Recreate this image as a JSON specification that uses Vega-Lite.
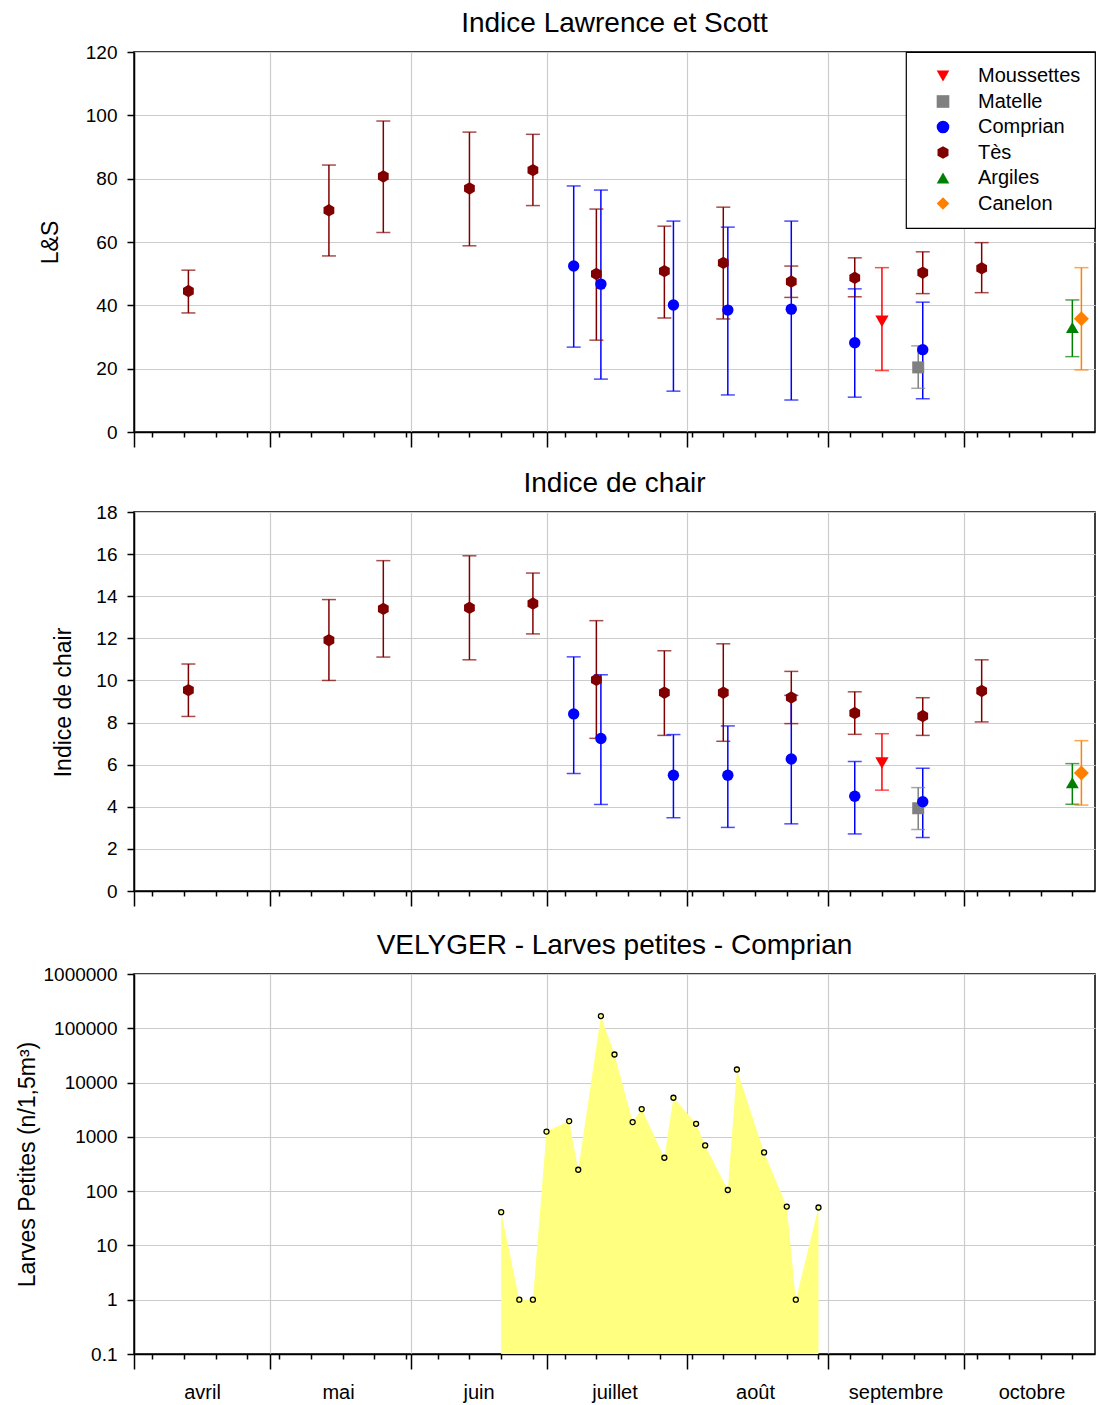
{
  "$schema": "https://vega.github.io/schema/vega-lite/v6.json",
  "background": "white",
  "padding": {"left": 15, "top": 9, "right": 3, "bottom": 0},
  "spacing": 20,
  "config": {
    "font": "Liberation Sans",
    "view": {"stroke": "black", "strokeWidth": 1.5},
    "axis": {
      "domainColor": "black", "domainWidth": 1.5,
      "tickColor": "black", "tickWidth": 1.5,
      "labelColor": "black", "titleColor": "black",
      "labelFontSize": 19, "titleFontSize": 23, "titleFontWeight": "normal",
      "gridColor": "#cccccc", "gridWidth": 1.2
    },
    "title": {"fontSize": 28, "fontWeight": "normal", "color": "black", "offset": 5, "baseline": "alphabetic", "anchor": "middle", "frame": "group"},
    "legend": {
      "orient": "top-right", "offset": 0, "padding": 14,
      "strokeColor": "black", "strokeWidth": 1.2, "fillColor": "white",
      "labelFontSize": 20, "labelColor": "black", "labelFont": "Liberation Sans",
      "symbolSize": 160, "symbolOffset": 13, "labelOffset": 25, "rowPadding": 5.5,
      "symbolStrokeWidth": 0, "symbolOpacity": 1, "cornerRadius": 0
    }
  },
  "resolve": {"legend": {"color": "independent", "shape": "independent"}},
  "datasets": {
    "indices": [
      {"date": "2009-04-13T00:00:00", "site": "Tès", "ls": 44.5, "ls_lo": 37.6, "ls_hi": 51.1, "ic": 9.54, "ic_lo": 8.29, "ic_hi": 10.78},
      {"date": "2009-05-14T00:00:00", "site": "Tès", "ls": 70.0, "ls_lo": 55.6, "ls_hi": 84.3, "ic": 11.91, "ic_lo": 10.0, "ic_hi": 13.84},
      {"date": "2009-05-26T00:00:00", "site": "Tès", "ls": 80.7, "ls_lo": 63.0, "ls_hi": 98.2, "ic": 13.4, "ic_lo": 11.11, "ic_hi": 15.69},
      {"date": "2009-06-14T00:00:00", "site": "Tès", "ls": 76.9, "ls_lo": 58.8, "ls_hi": 94.7, "ic": 13.45, "ic_lo": 10.98, "ic_hi": 15.92},
      {"date": "2009-06-28T00:00:00", "site": "Tès", "ls": 82.7, "ls_lo": 71.5, "ls_hi": 94.0, "ic": 13.65, "ic_lo": 12.21, "ic_hi": 15.1},
      {"date": "2009-07-12T00:00:00", "site": "Tès", "ls": 49.9, "ls_lo": 29.0, "ls_hi": 70.4, "ic": 10.03, "ic_lo": 7.25, "ic_hi": 12.84},
      {"date": "2009-07-27T00:00:00", "site": "Tès", "ls": 50.8, "ls_lo": 36.0, "ls_hi": 65.0, "ic": 9.42, "ic_lo": 7.39, "ic_hi": 11.41},
      {"date": "2009-08-09T00:00:00", "site": "Tès", "ls": 53.4, "ls_lo": 35.7, "ls_hi": 71.0, "ic": 9.42, "ic_lo": 7.11, "ic_hi": 11.74},
      {"date": "2009-08-24T00:00:00", "site": "Tès", "ls": 47.5, "ls_lo": 42.5, "ls_hi": 52.4, "ic": 9.19, "ic_lo": 7.95, "ic_hi": 10.43},
      {"date": "2009-09-07T00:00:00", "site": "Tès", "ls": 48.7, "ls_lo": 42.7, "ls_hi": 55.0, "ic": 8.45, "ic_lo": 7.44, "ic_hi": 9.46},
      {"date": "2009-09-22T00:00:00", "site": "Tès", "ls": 50.3, "ls_lo": 43.7, "ls_hi": 56.9, "ic": 8.31, "ic_lo": 7.39, "ic_hi": 9.18},
      {"date": "2009-10-05T00:00:00", "site": "Tès", "ls": 51.7, "ls_lo": 44.0, "ls_hi": 59.8, "ic": 9.5, "ic_lo": 8.03, "ic_hi": 10.98},
      {"date": "2009-09-21T00:00:00", "site": "Matelle", "ls": 20.4, "ls_lo": 13.8, "ls_hi": 27.2, "ic": 3.93, "ic_lo": 2.92, "ic_hi": 4.91},
      {"date": "2009-09-13T00:00:00", "site": "Moussettes", "ls": 35.0, "ls_lo": 19.4, "ls_hi": 51.9, "ic": 6.08, "ic_lo": 4.79, "ic_hi": 7.47},
      {"date": "2009-07-07T00:00:00", "site": "Comprian", "ls": 52.4, "ls_lo": 26.8, "ls_hi": 77.7, "ic": 8.41, "ic_lo": 5.58, "ic_hi": 11.12},
      {"date": "2009-07-13T00:00:00", "site": "Comprian", "ls": 46.7, "ls_lo": 16.7, "ls_hi": 76.4, "ic": 7.24, "ic_lo": 4.11, "ic_hi": 10.27},
      {"date": "2009-07-29T00:00:00", "site": "Comprian", "ls": 40.1, "ls_lo": 12.9, "ls_hi": 66.6, "ic": 5.5, "ic_lo": 3.48, "ic_hi": 7.43},
      {"date": "2009-08-10T00:00:00", "site": "Comprian", "ls": 38.5, "ls_lo": 11.7, "ls_hi": 64.7, "ic": 5.5, "ic_lo": 3.02, "ic_hi": 7.84},
      {"date": "2009-08-24T00:00:00", "site": "Comprian", "ls": 38.8, "ls_lo": 10.1, "ls_hi": 66.6, "ic": 6.27, "ic_lo": 3.19, "ic_hi": 9.29},
      {"date": "2009-09-07T00:00:00", "site": "Comprian", "ls": 28.2, "ls_lo": 11.0, "ls_hi": 45.2, "ic": 4.5, "ic_lo": 2.71, "ic_hi": 6.15},
      {"date": "2009-09-22T00:00:00", "site": "Comprian", "ls": 26.0, "ls_lo": 10.5, "ls_hi": 41.0, "ic": 4.24, "ic_lo": 2.54, "ic_hi": 5.83},
      {"date": "2009-10-25T00:00:00", "site": "Argiles", "ls": 33.0, "ls_lo": 23.8, "ls_hi": 41.7, "ic": 5.14, "ic_lo": 4.12, "ic_hi": 6.05},
      {"date": "2009-10-27T00:00:00", "site": "Canelon", "ls": 35.8, "ls_lo": 19.6, "ls_hi": 51.9, "ic": 5.61, "ic_lo": 4.08, "ic_hi": 7.14}
    ],
    "velyger": [
      {"date": "2009-06-21T00:00:00", "larves": 41},
      {"date": "2009-06-25T00:00:00", "larves": 1},
      {"date": "2009-06-28T00:00:00", "larves": 1},
      {"date": "2009-07-01T00:00:00", "larves": 1250},
      {"date": "2009-07-06T00:00:00", "larves": 1950},
      {"date": "2009-07-08T00:00:00", "larves": 248},
      {"date": "2009-07-13T00:00:00", "larves": 168000},
      {"date": "2009-07-16T00:00:00", "larves": 32900},
      {"date": "2009-07-20T00:00:00", "larves": 1870},
      {"date": "2009-07-22T00:00:00", "larves": 3250},
      {"date": "2009-07-27T00:00:00", "larves": 412},
      {"date": "2009-07-29T00:00:00", "larves": 5250},
      {"date": "2009-08-03T00:00:00", "larves": 1740},
      {"date": "2009-08-05T00:00:00", "larves": 695},
      {"date": "2009-08-10T00:00:00", "larves": 105},
      {"date": "2009-08-12T00:00:00", "larves": 17400},
      {"date": "2009-08-18T00:00:00", "larves": 516},
      {"date": "2009-08-23T00:00:00", "larves": 52},
      {"date": "2009-08-25T00:00:00", "larves": 1},
      {"date": "2009-08-30T00:00:00", "larves": 50}
    ]
  },
  "vconcat": [
    {
      "title": "Indice Lawrence et Scott",
      "width": 961, "height": 380,
      "data": {"name": "indices"},
      "encoding": {
        "x": {
          "field": "date", "type": "temporal",
          "scale": {"domain": [{"year": 2009, "month": 4, "date": 1}, {"year": 2009, "month": 10, "date": 30}]},
          "axis": {
            "title": null, "labels": false, "grid": true,
            "values": [
              {"year": 2009, "month": 4, "date": 1}, {"year": 2009, "month": 5, "date": 1}, {"year": 2009, "month": 6, "date": 1}, {"year": 2009, "month": 7, "date": 1}, {"year": 2009, "month": 8, "date": 1}, {"year": 2009, "month": 9, "date": 1}, {"year": 2009, "month": 10, "date": 1},
              {"year": 2009, "month": 4, "date": 5}, {"year": 2009, "month": 4, "date": 12}, {"year": 2009, "month": 4, "date": 19}, {"year": 2009, "month": 4, "date": 26},
              {"year": 2009, "month": 5, "date": 3}, {"year": 2009, "month": 5, "date": 10}, {"year": 2009, "month": 5, "date": 17}, {"year": 2009, "month": 5, "date": 24}, {"year": 2009, "month": 5, "date": 31},
              {"year": 2009, "month": 6, "date": 7}, {"year": 2009, "month": 6, "date": 14}, {"year": 2009, "month": 6, "date": 21}, {"year": 2009, "month": 6, "date": 28},
              {"year": 2009, "month": 7, "date": 5}, {"year": 2009, "month": 7, "date": 12}, {"year": 2009, "month": 7, "date": 19}, {"year": 2009, "month": 7, "date": 26},
              {"year": 2009, "month": 8, "date": 2}, {"year": 2009, "month": 8, "date": 9}, {"year": 2009, "month": 8, "date": 16}, {"year": 2009, "month": 8, "date": 23}, {"year": 2009, "month": 8, "date": 30},
              {"year": 2009, "month": 9, "date": 6}, {"year": 2009, "month": 9, "date": 13}, {"year": 2009, "month": 9, "date": 20}, {"year": 2009, "month": 9, "date": 27},
              {"year": 2009, "month": 10, "date": 4}, {"year": 2009, "month": 10, "date": 11}, {"year": 2009, "month": 10, "date": 18}, {"year": 2009, "month": 10, "date": 25}
            ],
            "tickSize": {"condition": {"test": "date(datum.value) == 1", "value": 15}, "value": 5},
            "gridOpacity": {"condition": {"test": "date(datum.value) == 1", "value": 1}, "value": 0}
          }
        },
        "color": {
          "field": "site", "type": "nominal",
          "scale": {"domain": ["Moussettes", "Matelle", "Comprian", "Tès", "Argiles", "Canelon"], "range": ["#ff0000", "#808080", "#0000ff", "#800000", "#008000", "#ff8000"]},
          "legend": {"title": null}
        }
      },
      "layer": [
        {
          "mark": {"type": "rule", "strokeWidth": 1.5},
          "encoding": {
            "y": {"field": "ls_lo", "type": "quantitative", "title": "L&S",
              "scale": {"domain": [0, 120], "nice": false},
              "axis": {"values": [0, 20, 40, 60, 80, 100, 120], "tickSize": 7, "labelPadding": 10, "grid": true, "titleX": -84, "titleY": 190, "titleBaseline": "middle"}},
            "y2": {"field": "ls_hi"}
          }
        },
        {
          "mark": {"type": "tick", "orient": "horizontal", "thickness": 1.5, "size": 14},
          "encoding": {"y": {"field": "ls_lo", "type": "quantitative", "title": "L&S"}}
        },
        {
          "mark": {"type": "tick", "orient": "horizontal", "thickness": 1.5, "size": 14},
          "encoding": {"y": {"field": "ls_hi", "type": "quantitative", "title": "L&S"}}
        },
        {
          "mark": {"type": "point", "filled": true, "opacity": 1, "strokeWidth": 0},
          "encoding": {
            "y": {"field": "ls", "type": "quantitative", "title": "L&S"},
            "shape": {
              "field": "site", "type": "nominal",
              "scale": {"domain": ["Moussettes", "Matelle", "Comprian", "Tès", "Argiles", "Canelon"], "range": ["triangle-down", "square", "circle", "M0,-1L0.866,-0.5L0.866,0.5L0,1L-0.866,0.5L-0.866,-0.5Z", "triangle-up", "diamond"]},
              "legend": {"title": null}
            },
            "size": {
              "field": "site", "type": "nominal",
              "scale": {"type": "ordinal", "domain": ["Moussettes", "Matelle", "Comprian", "Tès", "Argiles", "Canelon"], "range": [177, 144, 130, 155, 165, 225]},
              "legend": null
            }
          }
        }
      ]
    },
    {
      "title": "Indice de chair",
      "width": 961, "height": 379,
      "data": {"name": "indices"},
      "encoding": {
        "x": {
          "field": "date", "type": "temporal",
          "scale": {"domain": [{"year": 2009, "month": 4, "date": 1}, {"year": 2009, "month": 10, "date": 30}]},
          "axis": {
            "title": null, "labels": false, "grid": true, "minExtent": 19,
            "values": [
              {"year": 2009, "month": 4, "date": 1}, {"year": 2009, "month": 5, "date": 1}, {"year": 2009, "month": 6, "date": 1}, {"year": 2009, "month": 7, "date": 1}, {"year": 2009, "month": 8, "date": 1}, {"year": 2009, "month": 9, "date": 1}, {"year": 2009, "month": 10, "date": 1},
              {"year": 2009, "month": 4, "date": 5}, {"year": 2009, "month": 4, "date": 12}, {"year": 2009, "month": 4, "date": 19}, {"year": 2009, "month": 4, "date": 26},
              {"year": 2009, "month": 5, "date": 3}, {"year": 2009, "month": 5, "date": 10}, {"year": 2009, "month": 5, "date": 17}, {"year": 2009, "month": 5, "date": 24}, {"year": 2009, "month": 5, "date": 31},
              {"year": 2009, "month": 6, "date": 7}, {"year": 2009, "month": 6, "date": 14}, {"year": 2009, "month": 6, "date": 21}, {"year": 2009, "month": 6, "date": 28},
              {"year": 2009, "month": 7, "date": 5}, {"year": 2009, "month": 7, "date": 12}, {"year": 2009, "month": 7, "date": 19}, {"year": 2009, "month": 7, "date": 26},
              {"year": 2009, "month": 8, "date": 2}, {"year": 2009, "month": 8, "date": 9}, {"year": 2009, "month": 8, "date": 16}, {"year": 2009, "month": 8, "date": 23}, {"year": 2009, "month": 8, "date": 30},
              {"year": 2009, "month": 9, "date": 6}, {"year": 2009, "month": 9, "date": 13}, {"year": 2009, "month": 9, "date": 20}, {"year": 2009, "month": 9, "date": 27},
              {"year": 2009, "month": 10, "date": 4}, {"year": 2009, "month": 10, "date": 11}, {"year": 2009, "month": 10, "date": 18}, {"year": 2009, "month": 10, "date": 25}
            ],
            "tickSize": {"condition": {"test": "date(datum.value) == 1", "value": 15}, "value": 5},
            "gridOpacity": {"condition": {"test": "date(datum.value) == 1", "value": 1}, "value": 0}
          }
        },
        "color": {
          "field": "site", "type": "nominal",
          "scale": {"domain": ["Moussettes", "Matelle", "Comprian", "Tès", "Argiles", "Canelon"], "range": ["#ff0000", "#808080", "#0000ff", "#800000", "#008000", "#ff8000"]},
          "legend": null
        }
      },
      "layer": [
        {
          "mark": {"type": "rule", "strokeWidth": 1.5},
          "encoding": {
            "y": {"field": "ic_lo", "type": "quantitative", "title": "Indice de chair",
              "scale": {"domain": [0, 18], "nice": false},
              "axis": {"values": [0, 2, 4, 6, 8, 10, 12, 14, 16, 18], "tickSize": 7, "labelPadding": 10, "grid": true, "titleX": -71, "titleY": 190, "titleBaseline": "middle"}},
            "y2": {"field": "ic_hi"}
          }
        },
        {
          "mark": {"type": "tick", "orient": "horizontal", "thickness": 1.5, "size": 14},
          "encoding": {"y": {"field": "ic_lo", "type": "quantitative", "title": "Indice de chair"}}
        },
        {
          "mark": {"type": "tick", "orient": "horizontal", "thickness": 1.5, "size": 14},
          "encoding": {"y": {"field": "ic_hi", "type": "quantitative", "title": "Indice de chair"}}
        },
        {
          "mark": {"type": "point", "filled": true, "opacity": 1, "strokeWidth": 0},
          "encoding": {
            "y": {"field": "ic", "type": "quantitative", "title": "Indice de chair"},
            "shape": {
              "field": "site", "type": "nominal",
              "scale": {"domain": ["Moussettes", "Matelle", "Comprian", "Tès", "Argiles", "Canelon"], "range": ["triangle-down", "square", "circle", "M0,-1L0.866,-0.5L0.866,0.5L0,1L-0.866,0.5L-0.866,-0.5Z", "triangle-up", "diamond"]},
              "legend": null
            },
            "size": {
              "field": "site", "type": "nominal",
              "scale": {"type": "ordinal", "domain": ["Moussettes", "Matelle", "Comprian", "Tès", "Argiles", "Canelon"], "range": [177, 144, 130, 155, 165, 225]},
              "legend": null
            }
          }
        }
      ]
    },
    {
      "title": "VELYGER - Larves petites - Comprian",
      "width": 961, "height": 380,
      "data": {"name": "velyger"},
      "encoding": {
        "x": {
          "field": "date", "type": "temporal",
          "scale": {"domain": [{"year": 2009, "month": 4, "date": 1}, {"year": 2009, "month": 10, "date": 30}]},
          "axis": {
            "title": null, "grid": true, "labelFontSize": 20, "labelFlush": false, "labelOverlap": false, "labelPadding": 23,
            "values": [
              {"year": 2009, "month": 4, "date": 1}, {"year": 2009, "month": 5, "date": 1}, {"year": 2009, "month": 6, "date": 1}, {"year": 2009, "month": 7, "date": 1}, {"year": 2009, "month": 8, "date": 1}, {"year": 2009, "month": 9, "date": 1}, {"year": 2009, "month": 10, "date": 1},
              {"year": 2009, "month": 4, "date": 5}, {"year": 2009, "month": 4, "date": 12}, {"year": 2009, "month": 4, "date": 19}, {"year": 2009, "month": 4, "date": 26},
              {"year": 2009, "month": 5, "date": 3}, {"year": 2009, "month": 5, "date": 10}, {"year": 2009, "month": 5, "date": 17}, {"year": 2009, "month": 5, "date": 24}, {"year": 2009, "month": 5, "date": 31},
              {"year": 2009, "month": 6, "date": 7}, {"year": 2009, "month": 6, "date": 14}, {"year": 2009, "month": 6, "date": 21}, {"year": 2009, "month": 6, "date": 28},
              {"year": 2009, "month": 7, "date": 5}, {"year": 2009, "month": 7, "date": 12}, {"year": 2009, "month": 7, "date": 19}, {"year": 2009, "month": 7, "date": 26},
              {"year": 2009, "month": 8, "date": 2}, {"year": 2009, "month": 8, "date": 9}, {"year": 2009, "month": 8, "date": 16}, {"year": 2009, "month": 8, "date": 23}, {"year": 2009, "month": 8, "date": 30},
              {"year": 2009, "month": 9, "date": 6}, {"year": 2009, "month": 9, "date": 13}, {"year": 2009, "month": 9, "date": 20}, {"year": 2009, "month": 9, "date": 27},
              {"year": 2009, "month": 10, "date": 4}, {"year": 2009, "month": 10, "date": 11}, {"year": 2009, "month": 10, "date": 18}, {"year": 2009, "month": 10, "date": 25},
              {"year": 2009, "month": 4, "date": 16, "seconds": 1}, {"year": 2009, "month": 5, "date": 16, "seconds": 1}, {"year": 2009, "month": 6, "date": 16, "seconds": 1}, {"year": 2009, "month": 7, "date": 16, "seconds": 1}, {"year": 2009, "month": 8, "date": 16, "seconds": 1}, {"year": 2009, "month": 9, "date": 16, "seconds": 1}, {"year": 2009, "month": 10, "date": 16, "seconds": 1}
            ],
            "labelExpr": "seconds(datum.value) == 1 ? ['janvier','février','mars','avril','mai','juin','juillet','août','septembre','octobre','novembre','décembre'][month(datum.value)] : ''",
            "tickSize": {"condition": {"test": "date(datum.value) == 1", "value": 15}, "value": 5},
            "tickOpacity": {"condition": {"test": "seconds(datum.value) == 1", "value": 0}, "value": 1},
            "gridOpacity": {"condition": {"test": "date(datum.value) == 1", "value": 1}, "value": 0}
          }
        }
      },
      "layer": [
        {
          "mark": {"type": "area", "color": "#ffff80", "opacity": 1},
          "encoding": {
            "y": {"field": "larves", "type": "quantitative", "title": "Larves Petites (n/1,5m³)",
              "scale": {"type": "log", "domain": [0.1, 1000000], "nice": false},
              "axis": {"values": [0.1, 1, 10, 100, 1000, 10000, 100000, 1000000], "format": ".1~f", "tickSize": 7, "labelPadding": 10, "grid": true, "titleX": -107, "titleY": 190, "titleBaseline": "middle"}},
            "y2": {"datum": 0.1}
          }
        },
        {
          "mark": {"type": "point", "shape": "circle", "filled": true, "fill": "#ffff80", "stroke": "black", "strokeWidth": 1.3, "size": 25, "opacity": 1},
          "encoding": {"y": {"field": "larves", "type": "quantitative", "title": "Larves Petites (n/1,5m³)"}}
        }
      ]
    }
  ]
}
